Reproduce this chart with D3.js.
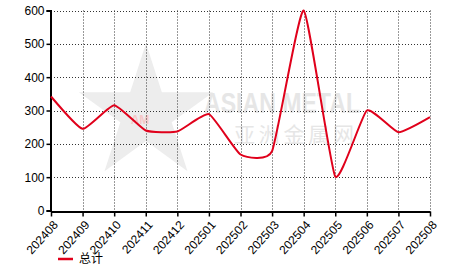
<!DOCTYPE html>
<html lang="zh">
<head>
<meta charset="utf-8">
<script src="https://d3js.org/d3.v7.min.js"></script>
<style>
  body { margin: 0; background: #fff; }
  text { font-family: "Liberation Sans", Arial, sans-serif; }
</style>
</head>
<body>
<div id="chart"></div>
<script>
// 数据
var months = ["202408","202409","202410","202411","202412","202501","202502","202503","202504","202505","202506","202507","202508"];
var totals = [342, 245, 316, 240, 237, 289, 168, 178, 600, 102, 300, 235, 280];
var yTicks = [0, 100, 200, 300, 400, 500, 600];
var seriesName = "总计";

var width = 466, height = 272;
var m = {left: 51, right: 36, top: 10.5, bottom: 61.5};

var svg = d3.select("#chart").append("svg")
    .attr("width", width)
    .attr("height", height);

var x = d3.scalePoint().domain(months).range([m.left, width - m.right]);
var y = d3.scaleLinear().domain([0, 600]).range([height - m.bottom, m.top]);

// 水印
var wm = svg.append("g").attr("fill", "#e6e6e6");
var star = d3.symbol().type(d3.symbolStar).size(5600)();
wm.append("path").attr("d", star).attr("transform", "translate(146,114)").attr("fill", "#ededed");
wm.append("text").attr("x", 140).attr("y", 124).attr("text-anchor", "middle")
    .attr("font-size", 12).attr("font-weight", "bold").attr("fill", "#f6c8c8").text("AM");
wm.append("text").attr("x", 204).attr("y", 113).attr("font-size", 30).attr("font-weight", "bold")
    .attr("textLength", 156).attr("lengthAdjust", "spacingAndGlyphs").text("ASIAN METAL");
wm.append("text").attr("x", 234).attr("y", 142).attr("font-size", 21)
    .style("font-family", "'Noto Sans CJK SC'").attr("textLength", 120).text("亚洲金属网");

// 网格
var grid = svg.append("g").attr("stroke", "#333").attr("stroke-width", 1).attr("stroke-dasharray", "1 2");
grid.selectAll("line.h").data(yTicks.filter(function(d){ return d > 0; })).enter().append("line")
    .attr("x1", m.left).attr("x2", width - m.right)
    .attr("y1", function(d){ return Math.round(y(d)) + 0.5; })
    .attr("y2", function(d){ return Math.round(y(d)) + 0.5; });
grid.selectAll("line.v").data(months.slice(1)).enter().append("line")
    .attr("x1", function(d){ return Math.round(x(d)) + 0.5; })
    .attr("x2", function(d){ return Math.round(x(d)) + 0.5; })
    .attr("y1", m.top).attr("y2", height - m.bottom);

// 坐标轴
var yAxis = svg.append("g")
    .attr("transform", "translate(" + (m.left - 0.5) + ",0)")
    .call(d3.axisLeft(y).tickValues(yTicks).tickSize(4).tickPadding(2));
var xAxis = svg.append("g")
    .attr("transform", "translate(0," + (Math.round(y(0)) + 0.5) + ")")
    .call(d3.axisBottom(x).tickSize(5).tickSizeOuter(0));
[yAxis, xAxis].forEach(function(a){
    a.select(".domain").attr("stroke", "#000").attr("stroke-width", 2);
    a.selectAll(".tick line").attr("stroke", "#000").attr("stroke-width", 1.5);
    a.selectAll("text").attr("font-size", 12).attr("fill", "#000")
        .style("font-family", "'Liberation Sans', Arial, sans-serif");
});
xAxis.selectAll("text")
    .attr("text-anchor", "end")
    .attr("x", 0).attr("y", 0)
    .attr("dx", 0).attr("dy", "0.35em")
    .attr("transform", "translate(4,11) rotate(-48)");

// 折线
var line = d3.line()
    .x(function(d, i){ return x(months[i]); })
    .y(function(d){ return y(d); })
    .curve(d3.curveCardinal.tension(0.55));
svg.append("path").datum(totals)
    .attr("d", line)
    .attr("fill", "none")
    .attr("stroke", "#e0001b")
    .attr("stroke-width", 2);

// 图例
var lg = svg.append("g").attr("transform", "translate(58,259)");
lg.append("line").attr("x1", 0).attr("x2", 15).attr("stroke", "#e0001b").attr("stroke-width", 2.5);
lg.append("text").attr("x", 21).attr("y", 4).attr("font-size", 12)
    .style("font-family", "'Noto Sans CJK SC'").text(seriesName);
</script>
</body>
</html>
